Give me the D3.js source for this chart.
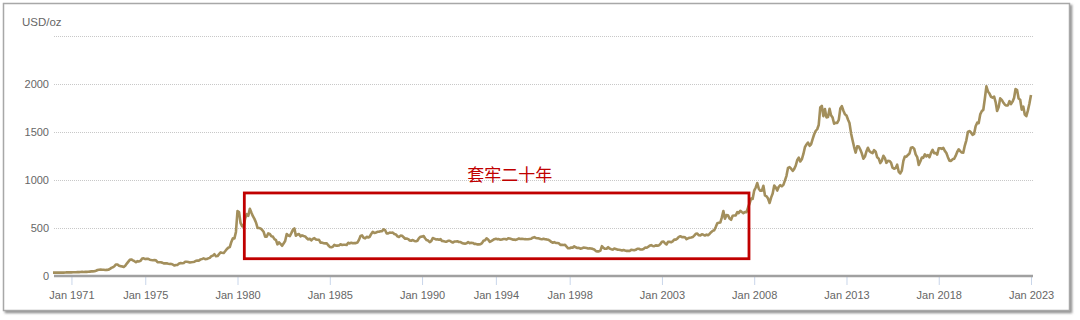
<!DOCTYPE html>
<html>
<head>
<meta charset="utf-8" />
<title>Gold price USD/oz</title>
<script src="https://d3js.org/d3.v7.min.js"></script>
<style>
  body { margin: 0; background: #fff; }
  svg { display: block; font-family: "Liberation Sans", Arial, sans-serif; }
</style>
</head>
<body>
<svg width="1080" height="320"></svg>
<script>
// monthly gold price (USD/oz), starting Jan 1970, one row per year
const startYear = 1970;
const prices = [
  34.9, 35.0, 35.1, 35.6, 35.9, 35.4, 35.3, 35.4, 36.2, 37.5, 37.4, 37.4,
  37.9, 38.7, 38.9, 39.0, 40.5, 40.1, 41.0, 42.7, 42.0, 42.5, 42.9, 43.5,
  45.8, 48.3, 48.3, 49.0, 54.6, 62.1, 65.7, 67.0, 65.5, 64.9, 62.9, 63.9,
  65.1, 74.2, 84.4, 90.5, 102.0, 120.1, 120.2, 106.8, 103.0, 100.1, 94.8, 106.7,
  129.2, 150.2, 168.4, 172.2, 163.0, 154.1, 143.0, 154.6, 151.8, 158.8, 181.7, 183.9,
  176.3, 179.6, 178.2, 170.1, 167.0, 164.2, 165.2, 163.0, 144.1, 142.8, 142.8, 139.3,
  131.6, 131.4, 132.6, 128.2, 125.9, 125.5, 117.8, 109.7, 114.0, 116.1, 130.6, 133.9,
  132.3, 136.3, 148.2, 149.2, 146.7, 140.8, 143.4, 145.0, 149.4, 158.0, 161.7, 160.5,
  173.1, 178.2, 183.7, 175.5, 176.3, 183.8, 188.8, 206.1, 212.4, 227.2, 206.0, 207.8,
  227.3, 245.7, 242.1, 239.2, 257.6, 279.1, 294.7, 300.8, 355.1, 392.0, 392.3, 459.0,
  675.3, 665.3, 553.6, 517.4, 513.8, 600.7, 644.3, 626.5, 700.0, 661.2, 623.5, 594.9,
  557.4, 500.3, 499.8, 495.8, 479.7, 460.8, 409.3, 410.1, 443.4, 437.8, 413.4, 410.1,
  384.1, 374.2, 330.0, 350.5, 333.9, 314.9, 339.1, 364.5, 436.9, 422.1, 416.2, 447.2,
  481.1, 495.0, 420.1, 432.8, 437.4, 413.0, 422.9, 416.2, 411.9, 394.3, 381.5, 387.9,
  370.5, 386.1, 394.3, 381.4, 377.4, 377.7, 347.5, 347.7, 341.1, 340.2, 341.2, 320.2,
  303.0, 299.3, 304.3, 324.8, 316.6, 316.8, 317.4, 329.9, 323.5, 325.9, 325.1, 322.2,
  345.5, 339.2, 346.4, 340.6, 342.6, 342.9, 348.5, 376.3, 417.3, 423.4, 398.4, 391.3,
  408.3, 401.0, 408.9, 438.3, 460.0, 449.6, 451.0, 460.8, 460.2, 465.4, 466.9, 486.3,
  477.0, 442.2, 443.7, 451.6, 451.3, 451.6, 437.3, 433.1, 413.4, 406.7, 420.6, 418.7,
  404.0, 387.9, 390.3, 384.3, 371.0, 367.6, 375.0, 365.4, 361.8, 366.9, 394.2, 409.1,
  410.1, 416.8, 393.1, 374.3, 369.0, 352.3, 362.5, 394.8, 389.3, 380.7, 381.9, 376.9,
  383.6, 363.8, 363.3, 358.4, 357.4, 366.7, 367.7, 356.2, 348.7, 358.6, 359.9, 361.8,
  354.5, 353.9, 344.3, 338.6, 337.2, 340.8, 352.6, 342.7, 345.4, 344.4, 335.0, 334.7,
  329.0, 329.4, 330.1, 342.2, 367.2, 371.9, 392.0, 379.8, 355.3, 364.2, 373.6, 383.1,
  386.9, 381.9, 384.1, 377.3, 381.4, 385.6, 385.5, 380.4, 391.6, 389.8, 384.4, 379.3,
  378.6, 376.5, 382.1, 391.0, 385.2, 387.6, 386.2, 383.7, 383.0, 383.1, 385.8, 387.4,
  399.5, 404.7, 396.2, 392.9, 391.9, 385.3, 383.5, 387.5, 383.1, 381.1, 377.9, 369.2,
  355.0, 346.6, 352.6, 344.2, 343.8, 340.8, 324.1, 324.0, 322.8, 324.9, 306.0, 288.7,
  289.3, 297.5, 295.9, 308.4, 299.1, 292.3, 292.9, 284.1, 289.0, 296.0, 294.1, 291.6,
  287.1, 287.3, 286.0, 282.4, 276.4, 261.3, 256.1, 256.7, 264.7, 310.7, 293.2, 283.1,
  284.3, 299.9, 286.4, 279.7, 275.2, 285.7, 281.6, 274.5, 273.7, 270.0, 266.0, 271.5,
  265.5, 261.9, 263.0, 260.5, 272.4, 270.2, 267.5, 272.4, 283.4, 283.1, 276.2, 275.9,
  281.7, 295.5, 294.0, 302.7, 314.5, 321.2, 313.3, 310.3, 319.2, 316.6, 319.2, 333.4,
  356.9, 359.0, 340.6, 328.2, 355.7, 356.4, 351.0, 359.8, 379.0, 378.9, 389.9, 407.6,
  414.0, 405.3, 406.7, 403.3, 383.8, 392.4, 398.1, 400.5, 405.3, 420.5, 439.4, 442.1,
  424.0, 423.4, 434.2, 428.9, 421.9, 430.7, 424.5, 437.9, 456.0, 469.9, 476.7, 509.8,
  549.9, 555.0, 557.1, 610.6, 676.5, 596.2, 633.8, 632.6, 598.2, 585.8, 627.8, 629.8,
  631.2, 664.8, 654.9, 679.4, 666.9, 655.5, 665.3, 665.4, 712.7, 754.6, 806.3, 803.2,
  889.6, 922.3, 968.4, 909.7, 888.7, 889.5, 939.8, 839.0, 829.9, 806.6, 760.9, 816.1,
  858.7, 943.2, 924.3, 890.2, 928.6, 945.7, 934.2, 949.4, 996.6, 1043.2, 1127.0, 1134.7,
  1117.9, 1095.4, 1113.3, 1148.7, 1205.4, 1232.9, 1193.0, 1215.8, 1271.0, 1342.0, 1369.9, 1390.6,
  1356.4, 1372.7, 1424.0, 1473.8, 1510.4, 1528.7, 1572.8, 1755.8, 1771.9, 1665.2, 1739.0, 1652.3,
  1656.1, 1742.6, 1673.8, 1650.1, 1585.5, 1596.7, 1593.9, 1626.0, 1744.5, 1770.0, 1721.6, 1684.8,
  1671.9, 1627.6, 1593.1, 1487.9, 1414.0, 1343.4, 1285.5, 1351.7, 1348.6, 1316.6, 1275.9, 1221.5,
  1244.3, 1299.6, 1336.1, 1299.0, 1287.5, 1279.1, 1310.6, 1295.1, 1236.6, 1222.5, 1176.3, 1200.6,
  1251.8, 1227.1, 1178.6, 1198.9, 1198.6, 1181.5, 1128.3, 1117.9, 1124.8, 1159.3, 1085.7, 1068.3,
  1097.9, 1199.5, 1245.1, 1242.3, 1260.9, 1276.4, 1336.7, 1340.2, 1326.6, 1266.6, 1238.4, 1157.4,
  1192.1, 1234.2, 1231.1, 1266.9, 1246.0, 1260.3, 1236.8, 1283.0, 1314.1, 1279.5, 1281.9, 1264.5,
  1331.3, 1330.7, 1324.7, 1334.8, 1303.5, 1281.6, 1237.7, 1201.7, 1198.4, 1215.4, 1220.7, 1250.4,
  1291.8, 1320.1, 1300.9, 1285.9, 1283.7, 1359.0, 1413.0, 1500.4, 1510.6, 1494.8, 1470.0, 1480.0,
  1560.7, 1597.1, 1591.9, 1683.2, 1715.9, 1732.2, 1846.5, 1975.0, 1921.9, 1900.3, 1866.3, 1858.4,
  1867.6, 1808.2, 1718.2, 1760.0, 1850.3, 1834.6, 1807.8, 1785.3, 1775.7, 1776.9, 1821.1, 1790.4,
  1816.0, 1856.3, 1947.8, 1936.3, 1848.5, 1836.6, 1732.7, 1764.6, 1680.6, 1664.5, 1725.1, 1797.6,
  1885.0
];

const yTicks = [0, 500, 1000, 1500, 2000];
const gridValues = [500, 1000, 1500, 2000, 2500];
const xTickYears = [1971, 1975, 1980, 1985, 1990, 1994, 1998, 2003, 2008, 2013, 2018, 2023];
const unitLabel = "USD/oz";

// annotated period: from, to, low, high
const boxFrom = new Date(1980, 4, 15);
const boxTo = new Date(2007, 8, 20);
const boxLow = 180;
const boxHigh = 865;
const boxLabel = "套牢二十年";
const labelDate = new Date(1994, 9, 1);
const labelValue = 990;

const svg = d3.select("svg");

// framed panel with shadow
const defs = svg.append("defs");
const shadow = defs.append("filter").attr("id", "shadow")
  .attr("x", "-2%").attr("y", "-5%").attr("width", "104%").attr("height", "112%");
shadow.append("feDropShadow")
  .attr("dx", 2).attr("dy", 2).attr("stdDeviation", 1.2)
  .attr("flood-color", "#777").attr("flood-opacity", 0.8);

svg.append("rect")
  .attr("x", 3.5).attr("y", 3.5).attr("width", 1066).attr("height", 307)
  .attr("fill", "#fff")
  .attr("stroke", "#a8a8a8").attr("stroke-width", 1.5)
  .attr("filter", "url(#shadow)");

const data = prices.map((v, i) => ({
  date: new Date(startYear + Math.floor(i / 12), i % 12, 1),
  value: v
}));

const x = d3.scaleTime()
  .domain([new Date(1970, 0, 1), new Date(2023, 0, 1)])
  .range([53, 1031]);
const y = d3.scaleLinear().domain([0, 2500]).range([276, 36]);

// dotted gridlines
svg.append("g")
  .selectAll("line")
  .data(gridValues)
  .join("line")
  .attr("x1", 54).attr("x2", 1033)
  .attr("y1", d => Math.round(y(d)) + 0.5).attr("y2", d => Math.round(y(d)) + 0.5)
  .attr("stroke", "#c8c8c8")
  .attr("stroke-dasharray", "1,1");

// y labels
const yAxis = svg.append("g")
  .attr("transform", "translate(50,0)")
  .call(d3.axisLeft(y).tickValues(yTicks).tickSize(0).tickPadding(1).tickFormat(d3.format("d")));
yAxis.select(".domain").remove();
yAxis.selectAll("text")
  .attr("fill", "#666").attr("font-size", 11)
  .attr("font-family", "Liberation Sans, Arial, sans-serif");

svg.append("text")
  .attr("x", 22).attr("y", 26)
  .attr("fill", "#666").attr("font-size", 11.5)
  .text(unitLabel);

// x axis
const xAxis = svg.append("g")
  .attr("transform", "translate(0,277)")
  .call(d3.axisBottom(x)
    .tickValues(xTickYears.map(yr => new Date(yr, 0, 1)))
    .tickSize(8).tickPadding(6)
    .tickFormat(d3.timeFormat("Jan %Y")));
xAxis.select(".domain").remove();
xAxis.selectAll(".tick line").attr("stroke", "#c9d6ea");
xAxis.selectAll("text")
  .attr("fill", "#666").attr("font-size", 11)
  .attr("font-family", "Liberation Sans, Arial, sans-serif");

svg.append("line")
  .attr("x1", 54).attr("x2", 1033)
  .attr("y1", y(0)).attr("y2", y(0))
  .attr("stroke", "#a0a0a0").attr("stroke-width", 2.5);

// price line
const line = d3.line()
  .x(d => x(d.date))
  .y(d => y(d.value));

svg.append("path")
  .datum(data)
  .attr("d", line)
  .attr("fill", "none")
  .attr("stroke", "#a38f5c")
  .attr("stroke-width", 2.6)
  .attr("stroke-linejoin", "round");

// annotation box
svg.append("rect")
  .attr("x", x(boxFrom)).attr("y", y(boxHigh))
  .attr("width", x(boxTo) - x(boxFrom))
  .attr("height", y(boxLow) - y(boxHigh))
  .attr("fill", "none")
  .attr("stroke", "#c00000").attr("stroke-width", 2.8);

svg.append("text")
  .attr("x", x(labelDate)).attr("y", y(labelValue))
  .attr("text-anchor", "middle")
  .attr("fill", "#c00000")
  .attr("font-size", 17)
  .attr("font-family", "Noto Sans CJK SC, sans-serif")
  .text(boxLabel);
</script>
</body>
</html>
